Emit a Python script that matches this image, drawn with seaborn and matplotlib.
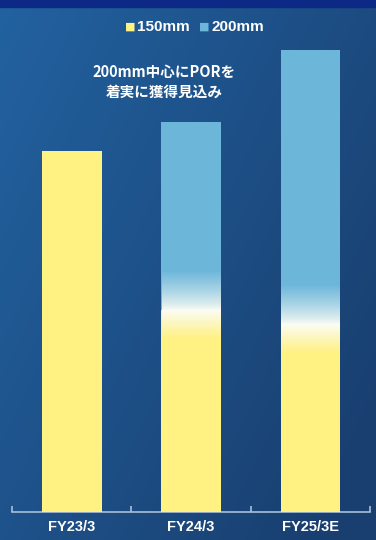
import numpy as np
import pandas as pd
import matplotlib
matplotlib.use("Agg")
import matplotlib.pyplot as plt
from matplotlib.colors import to_rgba
import seaborn as sns

# ---- data ----
categories = ["FY23/3", "FY24/3", "FY25/3E"]
mm150 = [100, 56, 52]
mm200 = [0, 52, 76]
series_labels = ["150mm", "200mm"]
note_text = "200mm中心にPORを\n着実に獲得見込み"

YELLOW = "#fff182"
BLUE = "#6cb6da"

sns.set_theme(style="white")
plt.rcParams["font.family"] = ["Noto Sans CJK JP", "DejaVu Sans"]

W, H = 376, 540
fig = plt.figure(figsize=(W / 100, H / 100), dpi=100)

# background gradient
bg = fig.add_axes([0, 0, 1, 1], zorder=-10)
yy, xx = np.mgrid[0:1:200j, 0:1:200j]
c_tl = np.array(to_rgba("#2262a0"))
c_br = np.array(to_rgba("#193f70"))
t = np.clip(0.65 * xx + 0.45 * yy, 0, 1)[..., None]
img = c_tl * (1 - t) + c_br * t
bg.imshow(img, extent=[0, 1, 0, 1], aspect="auto", origin="upper")
bg.axhspan(1 - 7 / H, 1, color="#0c2a85")
bg.set_xlim(0, 1); bg.set_ylim(0, 1)
bg.axis("off")

# main axes
left, right = 12 / W, 370 / W
bottom, top = 1 - 512 / H, 1 - 40 / H
ax = fig.add_axes([left, bottom, right - left, top - bottom])
ax.patch.set_alpha(0)

df = pd.DataFrame({"cat": categories, "m150": mm150, "m200": mm200})
df["total"] = df["m150"] + df["m200"]

sns.barplot(data=df, x="cat", y="total", color=BLUE, saturation=1, width=0.5,
            linewidth=0, ax=ax, zorder=2)
sns.barplot(data=df, x="cat", y="m150", color=YELLOW, saturation=1, width=0.5,
            linewidth=0, ax=ax, zorder=3)
bars = list(ax.patches)[:len(categories)]

# soft transition between the two segments
yel = np.array(to_rgba(YELLOW)); wht = np.array(to_rgba("#fbfcf4")); blu = np.array(to_rgba(BLUE))
n = 200
grad = np.zeros((n, 1, 4))
split = 0.42
for k in range(n):
    f = k / (n - 1)
    if f < split:
        g = f / split
        grad[k, 0] = yel * (1 - g) + wht * g
    else:
        g = (f - split) / (1 - split)
        g = g ** 0.8
        grad[k, 0] = wht * (1 - g) + blu * g
for p, a, b in zip(bars, mm150, mm200):
    if b > 0:
        x0 = p.get_x(); w = p.get_width()
        im = ax.imshow(grad, extent=[x0 + 0.004, x0 + w - 0.008, a - 8, a + 11],
                       aspect="auto", origin="lower", zorder=4, interpolation="bilinear")
        im.set_clip_path(p)

ax.set_xlim(-0.5, 2.5)
ax.set_ylim(0, 130.7)
ax.set_xlabel(""); ax.set_ylabel("")
ax.set_yticks([])
for s in ["top", "right", "left"]:
    ax.spines[s].set_visible(False)
ax.spines["bottom"].set_color("#a9bfd6")
ax.spines["bottom"].set_linewidth(1.2)
ax.set_xticks(range(len(categories)))
ax.set_xticklabels(categories, color="white", fontweight="bold", fontsize=10.5,
                   family=["Liberation Sans", "DejaVu Sans"])
ax.tick_params(axis="x", which="major", length=0, pad=6)
ax.set_xticks([-0.5, 0.5, 1.5, 2.5], minor=True)
ax.tick_params(axis="x", which="minor", direction="in", length=4, width=1.2,
               color="#a9bfd6", bottom=True)

# legend
ly = 1 - 27 / H
fig.text(125 / W, ly, "■", color=YELLOW, fontsize=8, ha="left", va="center",
         family=["DejaVu Sans"])
fig.text(137 / W, ly, series_labels[0], color="white", fontsize=11,
         fontweight="bold", ha="left", va="center", family=["Liberation Sans", "DejaVu Sans"])
fig.text(199 / W, ly, "■", color=BLUE, fontsize=8, ha="left", va="center",
         family=["DejaVu Sans"])
fig.text(211 / W, ly, series_labels[1], color="white", fontsize=11,
         fontweight="bold", ha="left", va="center", family=["Liberation Sans", "DejaVu Sans"])

# note
fig.text(164 / W, 1 - 82 / H, note_text, color="white", fontsize=10.5, fontweight="bold",
         ha="center", va="center", linespacing=1.25)

fig.savefig("out.png", dpi=100)
